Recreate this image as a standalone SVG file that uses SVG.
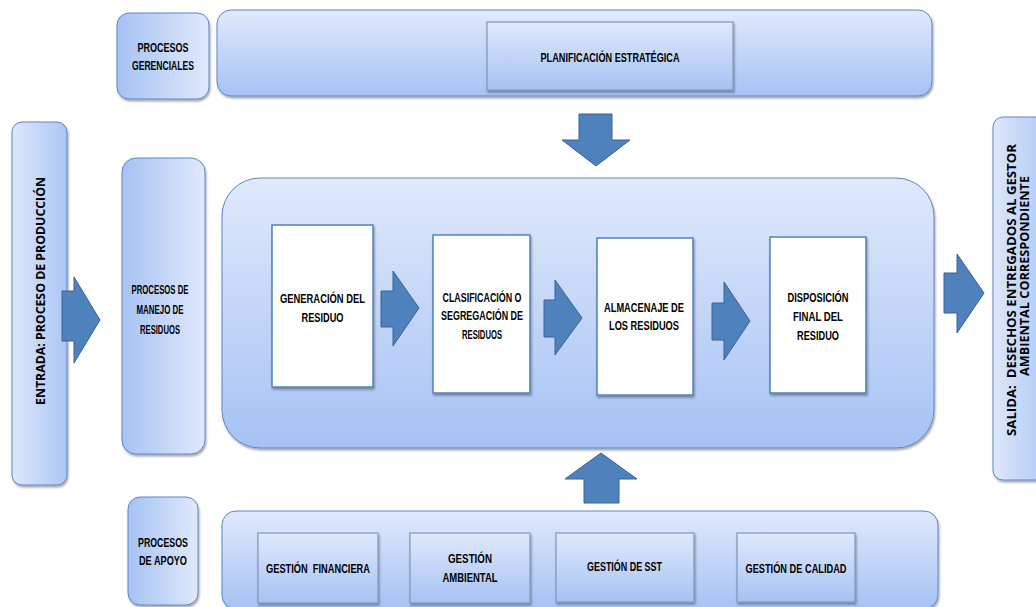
<svg xmlns="http://www.w3.org/2000/svg" width="1036" height="607" viewBox="0 0 1036 607">
  <defs>
    <!-- soft fills for the process panels -->
    <linearGradient id="gV" x1="0" y1="0" x2="0" y2="1">
      <stop offset="0" stop-color="#e0e9fc"/>
      <stop offset="1" stop-color="#a6c2f4"/>
    </linearGradient>
    <linearGradient id="gLR" x1="0" y1="0" x2="1" y2="0">
      <stop offset="0" stop-color="#a6c2f4"/>
      <stop offset="1" stop-color="#e0e9fc"/>
    </linearGradient>
    <linearGradient id="gRL" x1="0" y1="0" x2="1" y2="0">
      <stop offset="0" stop-color="#dde7fb"/>
      <stop offset="1" stop-color="#abc6f5"/>
    </linearGradient>
    <filter id="sh" x="-10%" y="-10%" width="125%" height="125%">
      <feDropShadow dx="1" dy="2" stdDeviation="1.3" flood-color="#000" flood-opacity="0.35"/>
    </filter>
    <style>
      .panel { stroke: #5a87c6; stroke-width: 1; filter: url(#sh); }
      .pv { fill: url(#gV); }
      .plr { fill: url(#gLR); }
      .prl { fill: url(#gRL); }
      .card { fill: url(#gV); stroke: #7f97b8; stroke-width: 1.2; filter: url(#sh); }
      .step { fill: #ffffff; stroke: #4f81bd; stroke-width: 1.5; filter: url(#sh); }
      .arrow { fill: #4f81bd; stroke: #3a6296; stroke-width: 1; }
      .t { font-family: "Liberation Sans", Arial, sans-serif; font-weight: bold; font-size: 12px; fill: #000; text-anchor: middle; }
      .tw { font-family: "Open Sans", "Liberation Sans", sans-serif; font-weight: bold; font-size: 12.5px; fill: #000; text-anchor: middle; }
    </style>
  </defs>

  <rect width="1036" height="607" fill="#ffffff"/>

  <!-- management processes -->
  <g id="procesos-gerenciales">
    <rect class="panel plr" x="117" y="13" width="92" height="86" rx="12"/>
    <text class="t" x="163" y="52" textLength="51" lengthAdjust="spacingAndGlyphs">PROCESOS</text>
    <text class="t" x="163" y="70" textLength="62" lengthAdjust="spacingAndGlyphs">GERENCIALES</text>
  </g>
  <g id="barra-gerencial">
    <rect class="panel pv" x="217" y="10" width="715" height="86" rx="14"/>
  </g>
  <g id="planificacion">
    <rect class="card" x="487" y="22" width="246" height="68"/>
    <text class="t" x="610" y="62" textLength="139" lengthAdjust="spacingAndGlyphs">PLANIFICACIÓN ESTRATÉGICA</text>
  </g>

  <!-- input -->
  <g id="entrada">
    <rect class="panel prl" x="12" y="122" width="55" height="363" rx="10"/>
    <text class="tw" transform="translate(45 291) rotate(-90)" textLength="228" lengthAdjust="spacingAndGlyphs">ENTRADA: PROCESO DE PRODUCCIÓN</text>
  </g>

  <!-- waste handling processes -->
  <g id="procesos-manejo">
    <rect class="panel plr" x="122" y="158" width="83" height="296" rx="14"/>
    <text class="t" x="160" y="294" textLength="57" lengthAdjust="spacingAndGlyphs">PROCESOS DE</text>
    <text class="t" x="160" y="314" textLength="47" lengthAdjust="spacingAndGlyphs">MANEJO DE</text>
    <text class="t" x="160" y="334" textLength="40" lengthAdjust="spacingAndGlyphs">RESIDUOS</text>
  </g>
  <g id="panel-manejo">
    <rect class="panel pv" x="222" y="178" width="712" height="270" rx="38"/>
  </g>

  <g id="generacion">
    <rect class="step" x="272" y="225" width="101" height="162"/>
    <text class="t" x="322.5" y="303" textLength="85" lengthAdjust="spacingAndGlyphs">GENERACIÓN DEL</text>
    <text class="t" x="322.5" y="322" textLength="42" lengthAdjust="spacingAndGlyphs">RESIDUO</text>
  </g>
  <g id="clasificacion">
    <rect class="step" x="433" y="235" width="97" height="158"/>
    <text class="t" x="482" y="302" textLength="79" lengthAdjust="spacingAndGlyphs">CLASIFICACIÓN O</text>
    <text class="t" x="482" y="320" textLength="82" lengthAdjust="spacingAndGlyphs">SEGREGACIÓN DE</text>
    <text class="t" x="482" y="339" textLength="40" lengthAdjust="spacingAndGlyphs">RESIDUOS</text>
  </g>
  <g id="almacenaje">
    <rect class="step" x="597" y="238" width="96" height="157"/>
    <text class="t" x="644" y="312" textLength="80" lengthAdjust="spacingAndGlyphs">ALMACENAJE DE</text>
    <text class="t" x="644" y="330" textLength="70" lengthAdjust="spacingAndGlyphs">LOS RESIDUOS</text>
  </g>
  <g id="disposicion">
    <rect class="step" x="770" y="237" width="96" height="156"/>
    <text class="t" x="818" y="302" textLength="61" lengthAdjust="spacingAndGlyphs">DISPOSICIÓN</text>
    <text class="t" x="818" y="321" textLength="50" lengthAdjust="spacingAndGlyphs">FINAL DEL</text>
    <text class="t" x="818" y="340" textLength="42" lengthAdjust="spacingAndGlyphs">RESIDUO</text>
  </g>

  <!-- output -->
  <g id="salida">
    <rect class="panel prl" x="993" y="117" width="60" height="363" rx="10"/>
    <text class="tw" xml:space="preserve" transform="translate(1016 290) rotate(-90)" textLength="292" lengthAdjust="spacingAndGlyphs">SALIDA:  DESECHOS ENTREGADOS AL GESTOR</text>
    <text class="tw" transform="translate(1029 276) rotate(-90)" textLength="200" lengthAdjust="spacingAndGlyphs">AMBIENTAL CORRESPONDIENTE</text>
  </g>

  <!-- support processes -->
  <g id="procesos-apoyo">
    <rect class="panel plr" x="128" y="497" width="70" height="108" rx="12"/>
    <text class="t" x="163" y="547" textLength="50" lengthAdjust="spacingAndGlyphs">PROCESOS</text>
    <text class="t" x="163" y="565" textLength="48" lengthAdjust="spacingAndGlyphs">DE APOYO</text>
  </g>
  <g id="barra-apoyo">
    <rect class="panel pv" x="222" y="511" width="716" height="98" rx="14"/>
  </g>
  <g id="gestion-financiera">
    <rect class="card" x="258" y="533" width="120" height="70"/>
    <text class="t" xml:space="preserve" x="318" y="573" textLength="104" lengthAdjust="spacingAndGlyphs">GESTIÓN  FINANCIERA</text>
  </g>
  <g id="gestion-ambiental">
    <rect class="card" x="410" y="533" width="120" height="70"/>
    <text class="t" x="470" y="563" textLength="44" lengthAdjust="spacingAndGlyphs">GESTIÓN</text>
    <text class="t" x="470" y="582" textLength="55" lengthAdjust="spacingAndGlyphs">AMBIENTAL</text>
  </g>
  <g id="gestion-sst">
    <rect class="card" x="556" y="533" width="138" height="69"/>
    <text class="t" x="624.5" y="571" textLength="75" lengthAdjust="spacingAndGlyphs">GESTIÓN DE SST</text>
  </g>
  <g id="gestion-calidad">
    <rect class="card" x="737" y="533" width="118" height="69"/>
    <text class="t" x="796" y="573" textLength="101" lengthAdjust="spacingAndGlyphs">GESTIÓN DE CALIDAD</text>
  </g>

  <!-- block arrows -->
  <g id="conectores">
    <polygon class="arrow" points="579,114 612,114 612,140 630,140 596,166 562,140 579,140"/>
    <polygon class="arrow" points="62,291 74,291 74,277 100,320 74,363 74,341 62,341"/>
    <polygon class="arrow" points="381,291 393,291 393,271 419,308 393,346 393,327 381,327"/>
    <polygon class="arrow" points="544,300 555,300 555,280 582,318 555,355 555,337 544,337"/>
    <polygon class="arrow" points="712,303 724,303 724,282 750,321 724,360 724,340 712,340"/>
    <polygon class="arrow" points="944,273 957,273 957,254 984,293 957,333 957,313 944,313"/>
    <polygon class="arrow" points="584,503 619,503 619,479 637,479 601,453 565,479 584,479"/>
  </g>
</svg>
